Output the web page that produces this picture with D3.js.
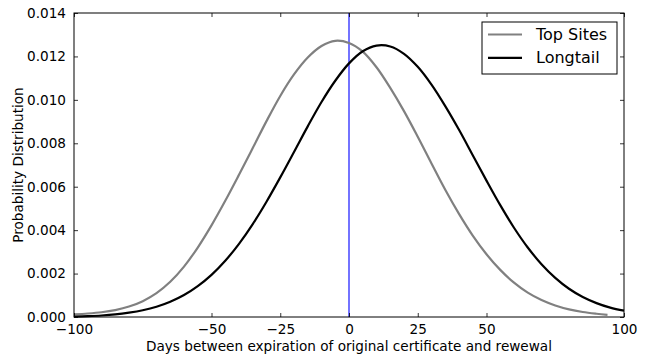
<!DOCTYPE html>
<html><head><meta charset="utf-8">
<script src="https://cdn.jsdelivr.net/npm/d3@7/dist/d3.min.js"></script>
<style>
html,body{margin:0;padding:0;background:#fff;}
svg text{font-family:"DejaVu Sans",sans-serif;fill:#000;}
</style></head>
<body><svg id="c" width="650" height="356"></svg>
<script>
const topX = [-100,-95,-90,-85,-80,-75,-70,-65,-60,-55,-50,-45,-40,-35,-30,-25,-20,-15,-10,-5,0,5,10,15,20,25,30,35,40,45,50,55,60,65,70,75,80,85,90,94];
const topY = [0.00012,0.00016,0.00022,0.00032,0.00048,0.00073,0.00110,0.00162,0.00232,0.00320,0.00422,0.00535,0.00655,0.00778,0.00902,0.01018,0.01117,0.01195,0.01248,0.01272,0.01262,0.01222,0.01150,0.01055,0.00948,0.00830,0.00707,0.00586,0.00475,0.00375,0.00289,0.00217,0.00158,0.00112,0.00078,0.00053,0.00035,0.00023,0.00015,0.00010];
const longX = [-100,-95,-90,-85,-80,-75,-70,-65,-60,-55,-50,-45,-40,-35,-30,-25,-20,-15,-10,-5,0,5,10,15,20,25,30,35,40,45,50,55,60,65,70,75,80,85,90,95,100];
const longY = [0.00002,0.00004,0.00007,0.00012,0.00020,0.00031,0.00047,0.00070,0.00101,0.00142,0.00194,0.00259,0.00337,0.00428,0.00531,0.00643,0.00760,0.00878,0.00990,0.01088,0.01168,0.01224,0.01250,0.01246,0.01212,0.01152,0.01070,0.00971,0.00862,0.00745,0.00628,0.00515,0.00411,0.00320,0.00243,0.00180,0.00130,0.00092,0.00064,0.00043,0.00029];
const xTicks = [-100,-50,-25,0,25,50,100];
const yTicks = [0,0.002,0.004,0.006,0.008,0.010,0.012,0.014];
const seriesNames = ["Top Sites","Longtail"];
const seriesColors = ["#808080","#000000"];
const xLabel = "Days between expiration of original certificate and rewewal";
const yLabel = "Probability Distribution";

const svg = d3.select("#c");
const L=74, R=624, T=13, B=317;
const FS = "13.6px";
const x = d3.scaleLinear().domain([-100,100]).range([L,R]);
const y = d3.scaleLinear().domain([0,0.014]).range([B,T]);
const fmtY = d3.format(".3f");
const fmtX = d => d3.format("d")(d).replace("-","\u2212");

const line = d3.line().x(d=>x(d[0])).y(d=>y(d[1])).curve(d3.curveCatmullRom.alpha(0.5));
const series = [d3.zip(topX,topY), d3.zip(longX,longY)];

const g = svg.append("g");
g.append("line").attr("x1",x(0)).attr("x2",x(0)).attr("y1",T).attr("y2",B)
 .attr("stroke","#0000ff").attr("stroke-width",1.1);

series.forEach((s,i)=>{
  g.append("path").datum(s).attr("d",line).attr("fill","none")
   .attr("stroke",seriesColors[i]).attr("stroke-width",2.2).attr("stroke-linejoin","round");
});

const axB = d3.axisBottom(x).tickValues(xTicks).tickFormat(fmtX).tickSizeInner(-4).tickSizeOuter(0).tickPadding(7);
const axT = d3.axisTop(x).tickValues(xTicks).tickFormat("").tickSizeInner(-4).tickSizeOuter(0);
const axL = d3.axisLeft(y).tickValues(yTicks).tickFormat(fmtY).tickSizeInner(-4).tickSizeOuter(0).tickPadding(8);
const axR = d3.axisRight(y).tickValues(yTicks).tickFormat("").tickSizeInner(-4).tickSizeOuter(0);
function style(sel){ sel.select(".domain").remove(); sel.selectAll("line").attr("stroke","#000").attr("stroke-width",0.8);
  sel.selectAll("text").style("font-size",FS).style("font-family","DejaVu Sans"); }
svg.append("g").attr("transform",`translate(0,${B})`).call(axB).call(style);
svg.append("g").attr("transform",`translate(0,${T})`).call(axT).call(style);
svg.append("g").attr("transform",`translate(${L},0)`).call(axL).call(style);
svg.append("g").attr("transform",`translate(${R},0)`).call(axR).call(style);

svg.append("rect").attr("x",L).attr("y",T).attr("width",R-L).attr("height",B-T)
  .attr("fill","none").attr("stroke","#000").attr("stroke-width",1);

svg.append("text").attr("x",(L+R)/2).attr("y",351).attr("text-anchor","middle")
  .style("font-size",FS).text(xLabel);
svg.append("text").attr("transform",`translate(23,${(T+B)/2}) rotate(-90)`).attr("text-anchor","middle")
  .style("font-size",FS).text(yLabel);

const lg = svg.append("g");
lg.append("rect").attr("x",482).attr("y",22).attr("width",135).attr("height",52)
  .attr("fill","#fff").attr("stroke","#000").attr("stroke-width",1);
seriesNames.forEach((n,i)=>{
  const yy = 34.5 + i*23.3;
  lg.append("line").attr("x1",488).attr("x2",522).attr("y1",yy).attr("y2",yy)
    .attr("stroke",seriesColors[i]).attr("stroke-width",2.2);
  lg.append("text").attr("x",536).attr("y",yy).attr("dy","0.35em").style("font-size","16px").text(n);
});
</script></body></html>
